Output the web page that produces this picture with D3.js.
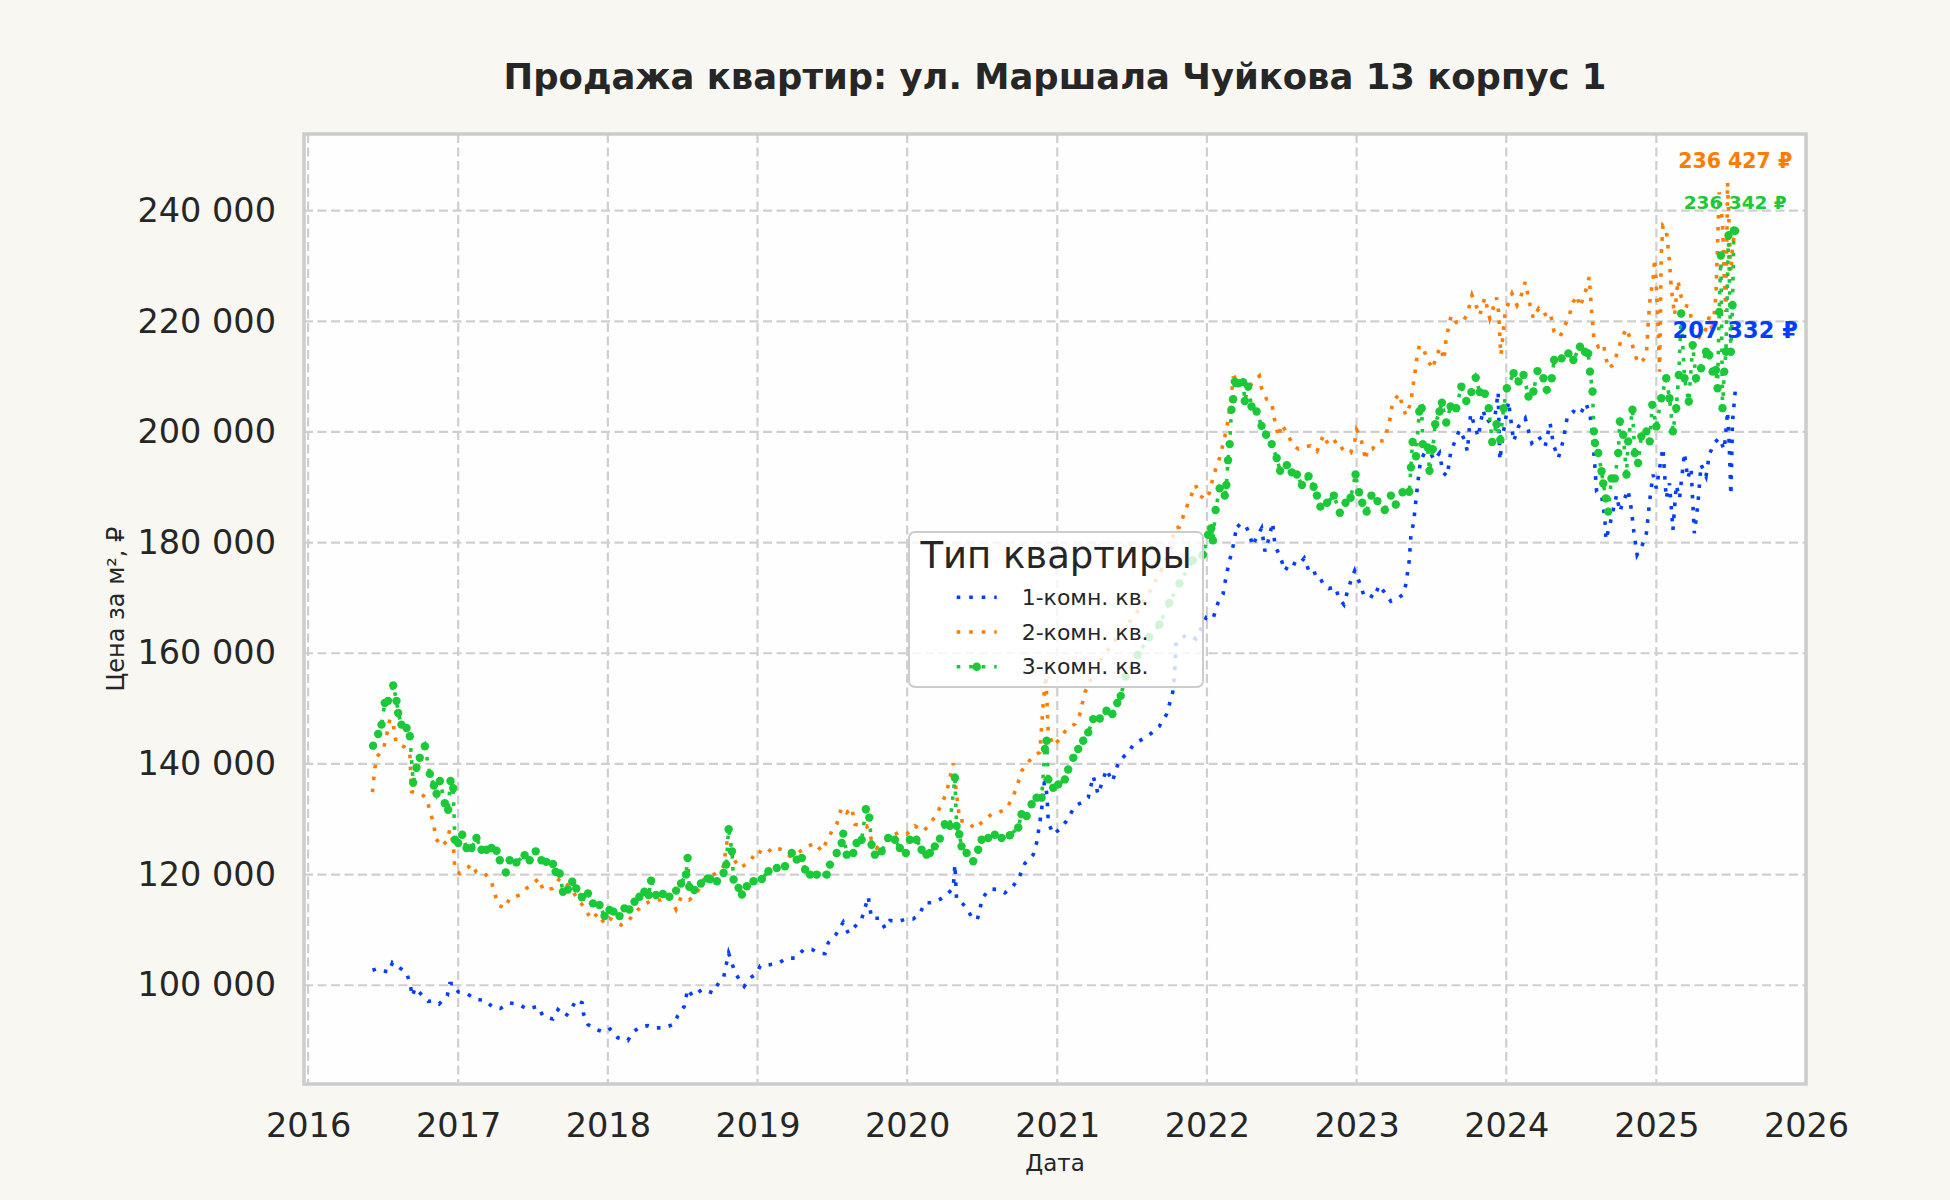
<!DOCTYPE html>
<html lang="ru">
<head>
<meta charset="utf-8">
<title>Продажа квартир: ул. Маршала Чуйкова 13 корпус 1</title>
<script src="https://cdn.jsdelivr.net/npm/d3@7"></script>
<style>
  body { margin: 0; background: #f8f7f2; }
  svg { display: block; font-family: "DejaVu Sans", sans-serif; }
</style>
</head>
<body>
<script>
// dates are decimal years, values are rubles per m2
const oneRoomT = [
  2016.429, 2016.460, 2016.496, 2016.540, 2016.562, 2016.607, 2016.656, 2016.678, 2016.696, 2016.711,
  2016.756, 2016.800, 2016.829, 2016.873, 2016.927, 2016.944, 2016.971, 2017.000, 2017.056, 2017.122,
  2017.178, 2017.233, 2017.282, 2017.344, 2017.400, 2017.460, 2017.533, 2017.567, 2017.633, 2017.667,
  2017.718, 2017.756, 2017.789, 2017.829, 2017.838, 2017.867, 2017.922, 2017.978, 2018.016, 2018.067,
  2018.133, 2018.167, 2018.211, 2018.267, 2018.311, 2018.378, 2018.444, 2018.467, 2018.511, 2018.533,
  2018.567, 2018.633,
  2018.702, 2018.740, 2018.773, 2018.791, 2018.807, 2018.829, 2018.851, 2018.884, 2018.911, 2018.951,
  2018.996, 2019.018, 2019.080, 2019.140, 2019.196, 2019.251, 2019.307, 2019.362, 2019.407, 2019.451,
  2019.473, 2019.522, 2019.573, 2019.607, 2019.651, 2019.696, 2019.718, 2019.740, 2019.762, 2019.818,
  2019.851, 2019.884, 2019.940, 2019.996, 2020.040, 2020.080, 2020.118, 2020.173, 2020.218, 2020.273,
  2020.307, 2020.318, 2020.329, 2020.351, 2020.384, 2020.429, 2020.467, 2020.502, 2020.551, 2020.607,
  2020.651, 2020.696, 2020.740, 2020.784, 2020.840, 2020.862, 2020.884, 2020.896, 2020.918, 2020.933,
  2020.940, 2020.973, 2021.018, 2021.062, 2021.118, 2021.162, 2021.207, 2021.240, 2021.273, 2021.329,
  2021.368, 2021.413, 2021.469, 2021.513, 2021.570, 2021.626, 2021.682, 2021.731, 2021.771, 2021.783,
  2021.794, 2021.861, 2021.928, 2021.996, 2022.040, 2022.074, 2022.108, 2022.130, 2022.152, 2022.175,
  2022.202, 2022.231, 2022.260, 2022.287, 2022.305, 2022.332, 2022.365, 2022.388, 2022.410, 2022.439,
  2022.455, 2022.489, 2022.522, 2022.556, 2022.612, 2022.650, 2022.691, 2022.735, 2022.776, 2022.814,
  2022.859, 2022.881, 2022.915, 2022.937, 2022.964, 2022.987, 2023.027, 2023.049, 2023.076, 2023.117,
  2023.150, 2023.184, 2023.229, 2023.274, 2023.314, 2023.330, 2023.352, 2023.363, 2023.381, 2023.397,
  2023.413, 2023.426, 2023.453, 2023.493, 2023.520, 2023.554, 2023.576, 2023.605, 2023.628, 2023.655,
  2023.688, 2023.722, 2023.740, 2023.762, 2023.789, 2023.812, 2023.845, 2023.868, 2023.924, 2023.946,
  2023.957,
  2023.982, 2024.015, 2024.049, 2024.082, 2024.126, 2024.170, 2024.215, 2024.259, 2024.292, 2024.314,
  2024.347, 2024.381, 2024.407, 2024.447, 2024.491, 2024.531, 2024.558, 2024.575, 2024.591, 2024.602,
  2024.635, 2024.657, 2024.664, 2024.690, 2024.735, 2024.757, 2024.779, 2024.812, 2024.834, 2024.850,
  2024.872, 2024.907, 2024.934, 2024.956, 2024.978, 2025.000, 2025.022, 2025.044, 2025.066, 2025.088,
  2025.111, 2025.133, 2025.155, 2025.188, 2025.210, 2025.232, 2025.254, 2025.277, 2025.299, 2025.332,
  2025.354, 2025.387, 2025.420, 2025.454, 2025.476, 2025.487, 2025.498, 2025.509, 2025.527
];
const oneRoomV = [
  102700, 103000, 102600, 102400, 104100, 103200, 102300, 100300, 98000, 99500,
  98300, 97100, 97200, 96600, 98100, 100300, 100300, 98800, 98500, 97400,
  97300, 96000, 95800, 96800, 96600, 95700, 96200, 94400, 93900, 95600,
  94400, 95700, 97400, 96800, 94800, 92900, 92000, 91500, 92100, 90500,
  90000, 91500, 92400, 92700, 92300, 92300, 93000, 94500, 96200, 99300,
  98000, 99300,
  98600, 100400, 101300, 103700, 105800, 104000, 102200, 100800, 99800, 101300,
  102200, 103500, 103700, 104000, 104900, 104900, 106400, 106500, 105800, 105700,
  107700, 109100, 111400, 109400, 110600, 112000, 114000, 116000, 112100, 112100,
  110300, 111700, 111500, 112000, 112000, 112700, 114900, 114900, 115500, 116600,
  117600, 121800, 115500, 115300, 114300, 112400, 111800, 115800, 117400, 117300,
  116700, 117600, 119100, 122000, 123600, 125700, 129400, 131800, 137800, 133600,
  129400, 127300, 128200, 129700, 132400, 133000, 133900, 137800, 134500, 139000,
  136800, 140600, 141900, 143600, 144500, 145500, 146800, 149000, 152900, 155800,
  162000, 163300, 162600, 166500, 166200, 169100, 170700, 174200, 176800, 179400,
  183300, 182600, 183000, 181400, 179400, 181000, 182600, 178400, 180400, 183600,
  179400, 177500, 174900, 176500, 175900, 177200, 174200, 174600, 172600, 171700,
  172000, 170000, 168800, 171000, 173300, 174900, 172300, 170400, 170700, 170000,
  172300, 171100, 169400, 169900, 170700, 172600, 176800, 181400, 183600, 187800,
  191700, 194600, 196200, 196200, 194900, 196200, 192700, 192000, 196200, 198200,
  200400, 198500, 196500, 203300, 201100, 199100, 204000, 201700, 202700, 207200,
  194900,
  200100, 205500, 198300, 201000, 202500, 198000, 199200, 197400, 201600, 197700,
  195300, 198600, 202800, 203700, 203100, 205200, 203100, 199500, 193500, 189200,
  188600, 184400, 180500, 183200, 188600, 185600, 187400, 189500, 185900, 182000,
  177800, 179600, 181700, 187700, 192300, 189800, 193500, 197100, 188000, 190700,
  182300, 190400, 188000, 196200, 191600, 193500, 181700, 186800, 194100, 192000,
  195900, 198000, 198900, 196800, 203700, 197700, 188600, 201900, 207332
];

const twoRoomT = [
  2016.429, 2016.444, 2016.460, 2016.504, 2016.529, 2016.544, 2016.567, 2016.573, 2016.589, 2016.640,
  2016.678, 2016.689, 2016.751, 2016.789, 2016.811, 2016.838, 2016.849, 2016.889, 2016.922, 2016.944,
  2016.967, 2016.978, 2017.011, 2017.067, 2017.089, 2017.122, 2017.178, 2017.222, 2017.244, 2017.267,
  2017.311, 2017.344, 2017.411, 2017.456, 2017.500, 2017.540, 2017.567, 2017.633, 2017.678, 2017.744,
  2017.789, 2017.851, 2017.889, 2017.933, 2017.978, 2018.011, 2018.089, 2018.127, 2018.178, 2018.233,
  2018.300, 2018.356, 2018.411, 2018.456, 2018.489, 2018.544,
  2018.596, 2018.640, 2018.684, 2018.729, 2018.773, 2018.796, 2018.818, 2018.851, 2018.884, 2018.951,
  2018.996, 2019.051, 2019.107, 2019.162, 2019.218, 2019.273, 2019.329, 2019.384, 2019.429, 2019.462,
  2019.496, 2019.529, 2019.562, 2019.596, 2019.629, 2019.651, 2019.696, 2019.729, 2019.762, 2019.796,
  2019.840, 2019.896, 2019.940, 2019.996, 2020.051, 2020.107, 2020.151, 2020.196, 2020.229, 2020.262,
  2020.307, 2020.329, 2020.351, 2020.396, 2020.451, 2020.507, 2020.562, 2020.607, 2020.662, 2020.702,
  2020.729, 2020.762, 2020.796, 2020.840, 2020.884, 2020.907, 2020.924, 2020.940, 2020.973, 2021.018,
  2021.062, 2021.118, 2021.151, 2021.184, 2021.218,
  2021.233, 2021.323, 2021.413, 2021.525, 2021.614, 2021.693, 2021.760, 2021.783, 2021.816, 2021.857,
  2021.895, 2021.924, 2021.951, 2021.996, 2022.018, 2022.040, 2022.067, 2022.085, 2022.119, 2022.141,
  2022.164, 2022.175, 2022.209, 2022.242, 2022.276, 2022.309, 2022.350, 2022.365, 2022.399, 2022.433,
  2022.448, 2022.478, 2022.500, 2022.534, 2022.578, 2022.612, 2022.646, 2022.691, 2022.735, 2022.780,
  2022.814, 2022.870, 2022.915, 2022.960, 2022.987, 2023.000, 2023.027, 2023.061, 2023.072, 2023.105,
  2023.139, 2023.184, 2023.217, 2023.240, 2023.285, 2023.307, 2023.330, 2023.363, 2023.374, 2023.386,
  2023.404, 2023.419, 2023.442, 2023.475, 2023.509, 2023.531, 2023.561, 2023.583, 2023.599, 2023.632,
  2023.666, 2023.711, 2023.744, 2023.771, 2023.800, 2023.823, 2023.857, 2023.890, 2023.935,
  2023.949, 2023.960, 2023.965, 2023.993, 2024.038, 2024.071, 2024.104, 2024.126, 2024.159, 2024.181,
  2024.215, 2024.248, 2024.292, 2024.319, 2024.358, 2024.392, 2024.420, 2024.447, 2024.469, 2024.491,
  2024.524, 2024.553, 2024.569, 2024.584, 2024.613, 2024.646, 2024.679, 2024.712, 2024.746, 2024.768,
  2024.801, 2024.834, 2024.856, 2024.878, 2024.912, 2024.934, 2024.945, 2024.956, 2024.978, 2024.989,
  2025.000, 2025.011, 2025.022, 2025.033, 2025.044, 2025.066, 2025.088, 2025.100, 2025.122, 2025.144,
  2025.166, 2025.188, 2025.221, 2025.243, 2025.265, 2025.299, 2025.332, 2025.354, 2025.376, 2025.398,
  2025.409, 2025.420, 2025.442, 2025.454, 2025.465, 2025.476, 2025.487, 2025.498, 2025.509, 2025.527
];
const twoRoomV = [
  134900, 139100, 141300, 142900, 145900, 148000, 147700, 145700, 143700, 143100,
  141700, 135000, 134600, 133800, 131600, 129000, 126600, 125100, 126000, 128100,
  125700, 120900, 120200, 121300, 121900, 120400, 120200, 118700, 116600, 114500,
  113900, 115700, 116300, 117500, 118400, 119300, 117200, 117500, 119300, 117800,
  116000, 113700, 111900, 113000, 111100, 112100, 110900, 111300, 113000, 114500,
  115400, 115400, 116000, 113700, 115900, 115400,
  116700, 119100, 119700, 120300, 121500, 126000, 123900, 122400, 121200, 122400,
  124400, 123600, 125000, 124500, 123300, 124000, 125000, 125700, 124200, 126000,
  127800, 129100, 132100, 131200, 132100, 129100, 128800, 128800, 126300, 124800,
  126000, 126900, 127600, 127300, 128800, 127800, 129100, 130900, 132700, 134800,
  140100, 134500, 129700, 129700, 128300, 129700, 130900, 131200, 131900, 133900,
  135700, 138700, 139900, 141500, 142100, 151100, 156000, 145700, 143300, 144500,
  146300, 147200, 149000, 152900, 154700,
  156800, 160000, 163300, 167100, 171000, 174900, 179100, 182600, 182800, 185900,
  188500, 190400, 188500, 187800, 189100, 191700, 194000, 195300, 199100, 202000,
  206600, 209800, 210100, 209100, 207900, 209100, 210100, 207900, 205900, 205300,
  202700, 199100, 201400, 199800, 197500, 196900, 197200, 197500, 196500, 199500,
  197500, 198500, 196500, 196200, 198200, 200400, 199100, 194900, 196900, 196900,
  198200, 198500, 201400, 205300, 206900, 204600, 203000, 205300, 207900, 209800,
  213700, 215600, 215300, 213000, 211400, 213700, 215300, 213000, 216900, 221100,
  219800, 219800, 221700, 224700, 222700, 221100, 224300, 220500, 224300,
  221700, 215700, 213900, 221700, 225000, 222900, 225000, 227100, 222900, 220500,
  222300, 221100, 221700, 218100, 217200, 219300, 221100, 223500, 224700, 222600,
  225000, 228000, 221700, 216900, 215400, 216000, 211500, 212100, 214800, 216900,
  218700, 216300, 214200, 212400, 213000, 213900, 219300, 223500, 227700, 231300,
  226500, 219900, 210900, 232200, 237300, 236700, 230700, 225900, 221100, 227400,
  224400, 222900, 222600, 218700, 217500, 216900, 218700, 220800, 218100, 224700,
  233700, 243300, 237900, 227700, 221700, 245100, 236700, 228900, 233700, 236427
];

const threeRoomT = [
  2016.433, 2016.467, 2016.489, 2016.511, 2016.533, 2016.567, 2016.589, 2016.600, 2016.622, 2016.656,
  2016.678, 2016.700, 2016.722, 2016.744, 2016.778, 2016.811, 2016.838, 2016.856, 2016.878, 2016.911,
  2016.933, 2016.949, 2016.967, 2016.978, 2017.000, 2017.027, 2017.056, 2017.089, 2017.122, 2017.156,
  2017.189, 2017.222, 2017.256, 2017.278, 2017.318, 2017.344, 2017.389, 2017.444, 2017.478, 2017.518,
  2017.556, 2017.589, 2017.633, 2017.651, 2017.678, 2017.700, 2017.733, 2017.762, 2017.789, 2017.827,
  2017.867, 2017.900, 2017.944, 2017.978, 2018.011, 2018.038, 2018.078, 2018.111, 2018.144, 2018.178,
  2018.211, 2018.244, 2018.273, 2018.289, 2018.322, 2018.367, 2018.411, 2018.456, 2018.489, 2018.522,
  2018.533, 2018.544, 2018.578, 2018.622, 2018.667,
  2018.684, 2018.729, 2018.773, 2018.791, 2018.807, 2018.829, 2018.840, 2018.873, 2018.896, 2018.929,
  2018.973, 2019.029, 2019.073, 2019.129, 2019.184, 2019.229, 2019.262, 2019.296, 2019.318, 2019.351,
  2019.396, 2019.462, 2019.484, 2019.529, 2019.562, 2019.573, 2019.596, 2019.640, 2019.662, 2019.696,
  2019.724, 2019.747, 2019.762, 2019.784, 2019.829, 2019.873, 2019.918, 2019.951, 2019.991, 2020.018,
  2020.062, 2020.096, 2020.129, 2020.151, 2020.184, 2020.218, 2020.251, 2020.284, 2020.318, 2020.329,
  2020.347, 2020.362, 2020.396, 2020.440, 2020.473, 2020.496, 2020.540, 2020.584, 2020.629, 2020.684,
  2020.740, 2020.762, 2020.796, 2020.829, 2020.862, 2020.896, 2020.918, 2020.929, 2020.940, 2020.973,
  2021.007, 2021.051, 2021.073, 2021.107, 2021.140, 2021.173, 2021.207, 2021.240, 2021.284, 2021.329,
  2021.368, 2021.401, 2021.424, 2021.457, 2021.536, 2021.614, 2021.682, 2021.749, 2021.816, 2021.906,
  2021.973, 2022.007, 2022.029, 2022.040, 2022.058, 2022.085, 2022.119, 2022.130, 2022.141, 2022.152,
  2022.164, 2022.175, 2022.186, 2022.209, 2022.242, 2022.253, 2022.276, 2022.298, 2022.332, 2022.365,
  2022.395, 2022.433, 2022.466, 2022.489, 2022.534, 2022.567, 2022.601, 2022.635, 2022.679, 2022.713,
  2022.735, 2022.758, 2022.803, 2022.848, 2022.888, 2022.926, 2022.960, 2022.993, 2023.016, 2023.038,
  2023.067, 2023.099, 2023.139, 2023.188, 2023.229, 2023.262, 2023.307, 2023.352, 2023.363, 2023.374,
  2023.397, 2023.419, 2023.435, 2023.442, 2023.475, 2023.487, 2023.509, 2023.525, 2023.554, 2023.570,
  2023.599, 2023.628, 2023.666, 2023.700, 2023.733, 2023.767, 2023.796, 2023.823, 2023.857, 2023.883,
  2023.906, 2023.935,
  2023.960, 2023.982, 2024.004, 2024.049, 2024.082, 2024.115, 2024.148, 2024.181, 2024.208, 2024.248,
  2024.270, 2024.303, 2024.319, 2024.369, 2024.414, 2024.447, 2024.491, 2024.524, 2024.546, 2024.558,
  2024.575, 2024.584, 2024.591, 2024.613, 2024.635, 2024.646, 2024.664, 2024.679, 2024.701, 2024.723,
  2024.746, 2024.757, 2024.779, 2024.801, 2024.812, 2024.841, 2024.856, 2024.878, 2024.900, 2024.934,
  2024.956, 2024.973, 2025.000, 2025.033, 2025.066, 2025.088, 2025.111, 2025.133, 2025.150, 2025.166,
  2025.188, 2025.217, 2025.243, 2025.265, 2025.299, 2025.332, 2025.354, 2025.376, 2025.398, 2025.409,
  2025.420, 2025.431, 2025.442, 2025.454, 2025.465, 2025.482, 2025.498, 2025.509, 2025.518, 2025.527
];
const threeRoomV = [
  143300, 145400, 147100, 151000, 151400, 154200, 151400, 149200, 147100, 146500,
  145000, 136600, 139300, 141100, 143200, 138200, 136100, 134600, 136900, 132900,
  131700, 136900, 135600, 126300, 125700, 127200, 124800, 124800, 126600, 124500,
  124500, 124800, 124300, 122600, 120400, 122600, 122200, 123500, 122600, 124200,
  122600, 122300, 121900, 120500, 120200, 116900, 117300, 118700, 117500, 115900,
  116600, 114800, 114500, 112500, 113600, 113300, 112500, 113900, 113700, 115100,
  116000, 116900, 116300, 118900, 116300, 116500, 116000, 117100, 118400, 120000,
  123000, 117800, 117200, 118400, 119300,
  119200, 118800, 120300, 121800, 128200, 124200, 119100, 117600, 116400, 117900,
  118800, 119200, 120600, 121200, 121500, 123900, 122700, 123000, 120900, 120000,
  120000, 120000, 121800, 123900, 125700, 127400, 123600, 123900, 125700, 126300,
  131800, 130300, 125400, 123600, 124200, 126600, 126300, 124800, 123900, 126300,
  126300, 124500, 123600, 123900, 125100, 126500, 129100, 128800, 137500, 128800,
  127300, 125100, 123900, 122400, 124500, 126300, 126600, 127200, 126600, 127100,
  128500, 130900, 130600, 132700, 133900, 133900, 142700, 144200, 137200, 135700,
  136300, 137200, 139000, 141100, 142700, 144200, 145700, 148100, 148200, 149600,
  149000, 151000, 152300, 155800, 159700, 162900, 165200, 169100, 172600, 176800,
  177800, 181400, 182600, 180400, 185900, 189800, 188500, 190400, 194900, 197800,
  204000, 205900, 209100, 208800, 209000, 205600, 208200, 204600, 203700, 201100,
  199500, 197800, 195300, 193000, 194000, 192700, 192300, 190400, 192000, 190100,
  188500, 186500, 187200, 188500, 185400, 187200, 188100, 192300, 189100, 187200,
  185600, 188500, 187500, 185900, 188500, 186900, 189100, 189200, 193600, 198200,
  195600, 203700, 204300, 197800, 197200, 193000, 196900, 201400, 203700, 205300,
  201700, 204600, 204300, 208200, 205600, 207200, 209800, 207200, 206900, 204300,
  198200, 201400,
  198600, 204300, 207900, 210600, 209100, 210300, 206400, 207300, 211000, 209700,
  207600, 209700, 213000, 213300, 214200, 213000, 215400, 214500, 214200, 210900,
  207300, 200100, 198000, 196200, 192900, 190700, 188000, 185600, 191600, 191600,
  196200, 201900, 199500, 192300, 198300, 204000, 196200, 194400, 199200, 200100,
  198300, 204900, 201000, 206100, 209700, 206100, 200100, 204300, 210300, 221400,
  209700, 205500, 215700, 209700, 211500, 214500, 213900, 210900, 211200, 207900,
  221700, 231900, 204300, 210900, 214500, 235500, 214500, 222900, 236400, 236342
];

const seriesNames = ["1-комн. кв.", "2-комн. кв.", "3-комн. кв."];
const seriesColors = ["#023eff", "#ff7c00", "#1ac938"];
const yTickValues = [100000, 120000, 140000, 160000, 180000, 200000, 220000, 240000];
const xTickYears = [2016, 2017, 2018, 2019, 2020, 2021, 2022, 2023, 2024, 2025, 2026];

const width = 1950;
const height = 1200;
const plot = { left: 304, right: 1806, top: 134, bottom: 1084 };

function yearToDate(t) {
  const y0 = Math.floor(t);
  const a = new Date(y0, 0, 1);
  const b = new Date(y0 + 1, 0, 1);
  return new Date(+a + (t - y0) * (b - a));
}

const series = [
  { t: oneRoomT, v: oneRoomV, labelSize: 22.5, labelDy: -60 },
  { t: twoRoomT, v: twoRoomV, labelSize: 20.5, labelDy: -68 },
  { t: threeRoomT, v: threeRoomV, labelSize: 18.5, labelDy: -27, marker: true }
].map((s, i) => ({
  ...s,
  name: seriesNames[i],
  color: seriesColors[i],
  points: s.t.map((t, j) => ({ date: yearToDate(t), value: s.v[j] }))
}));

const ru = d3.formatLocale({ decimal: ",", thousands: " ", grouping: [3], currency: ["", " ₽"] });
const fmtNum = ru.format(",.0f");
const fmtRub = ru.format("$,.0f");

const x = d3.scaleTime()
  .domain([new Date(2015, 11, 22), new Date(2026, 0, 1)])
  .range([plot.left, plot.right]);
const y = d3.scaleLinear()
  .domain([82150, 253850])
  .range([plot.bottom, plot.top]);

const svg = d3.create("svg")
  .attr("width", width)
  .attr("height", height)
  .attr("viewBox", [0, 0, width, height]);

svg.append("rect").attr("width", width).attr("height", height).attr("fill", "#f8f7f2");
svg.append("rect")
  .attr("x", plot.left).attr("y", plot.top)
  .attr("width", plot.right - plot.left).attr("height", plot.bottom - plot.top)
  .attr("fill", "#fefefe");

// grid
const grid = svg.append("g")
  .attr("stroke", "#cfcfcf")
  .attr("stroke-width", 2.2)
  .attr("stroke-dasharray", "9,4.5");
grid.selectAll(".gx").data(xTickYears).join("line")
  .attr("x1", d => x(new Date(d, 0, 1))).attr("x2", d => x(new Date(d, 0, 1)))
  .attr("y1", plot.top).attr("y2", plot.bottom);
grid.selectAll(".gy").data(yTickValues).join("line")
  .attr("x1", plot.left).attr("x2", plot.right)
  .attr("y1", d => y(d)).attr("y2", d => y(d));

// axes
const xAxis = svg.append("g")
  .attr("transform", `translate(0,${plot.bottom})`)
  .call(d3.axisBottom(x)
    .tickValues(xTickYears.map(d => new Date(d, 0, 1)))
    .tickFormat(d3.timeFormat("%Y"))
    .tickSize(0)
    .tickPadding(29.5));
const yAxis = svg.append("g")
  .attr("transform", `translate(${plot.left},0)`)
  .call(d3.axisLeft(y).tickValues(yTickValues).tickFormat(fmtNum).tickSize(0).tickPadding(28));
[xAxis, yAxis].forEach(g => {
  g.select(".domain").remove();
  g.attr("font-family", "DejaVu Sans").attr("font-size", 33.5);
  g.selectAll("text").attr("fill", "#262626");
});

// lines
const line = d3.line().x(d => x(d.date)).y(d => y(d.value));
const lines = svg.append("g");
series.forEach(s => {
  lines.append("path")
    .datum(s.points)
    .attr("d", line)
    .attr("fill", "none")
    .attr("stroke", s.color)
    .attr("stroke-width", 3.6)
    .attr("stroke-dasharray", "3.6,8.4");
  if (s.marker) {
    lines.append("g").selectAll("circle").data(s.points).join("circle")
      .attr("cx", d => x(d.date))
      .attr("cy", d => y(d.value))
      .attr("r", 4.2)
      .attr("fill", s.color);
  }
});

// border
svg.append("rect")
  .attr("x", plot.left).attr("y", plot.top)
  .attr("width", plot.right - plot.left).attr("height", plot.bottom - plot.top)
  .attr("fill", "none")
  .attr("stroke", "#cccccc")
  .attr("stroke-width", 3.5);

// last value labels
series.forEach(s => {
  const last = s.points[s.points.length - 1];
  svg.append("text")
    .attr("x", x(last.date))
    .attr("y", y(last.value) + s.labelDy)
    .attr("text-anchor", "middle")
    .attr("dominant-baseline", "middle")
    .attr("font-weight", "bold")
    .attr("font-size", s.labelSize)
    .attr("fill", s.color)
    .text(fmtRub(last.value));
});

// titles
svg.append("text")
  .attr("x", (plot.left + plot.right) / 2)
  .attr("y", 89)
  .attr("text-anchor", "middle")
  .attr("font-weight", "bold")
  .attr("font-size", 35.4)
  .attr("fill", "#262626")
  .text("Продажа квартир: ул. Маршала Чуйкова 13 корпус 1");
svg.append("text")
  .attr("x", (plot.left + plot.right) / 2)
  .attr("y", 1171)
  .attr("text-anchor", "middle")
  .attr("font-size", 23)
  .attr("fill", "#262626")
  .text("Дата");
svg.append("text")
  .attr("transform", `translate(124,${(plot.top + plot.bottom) / 2}) rotate(-90)`)
  .attr("text-anchor", "middle")
  .attr("font-size", 24)
  .attr("fill", "#262626")
  .text("Цена за м², ₽");

// legend
const legend = svg.append("g").attr("transform", "translate(909,532)");
legend.append("rect")
  .attr("width", 294).attr("height", 155).attr("rx", 6)
  .attr("fill", "#ffffff").attr("fill-opacity", 0.8)
  .attr("stroke", "#cccccc").attr("stroke-width", 2);
legend.append("text")
  .attr("x", 147).attr("y", 36)
  .attr("text-anchor", "middle")
  .attr("font-size", 37)
  .attr("fill", "#262626")
  .text("Тип квартиры");
const item = legend.selectAll(".item").data(series).join("g")
  .attr("transform", (d, i) => `translate(0,${65.3 + i * 34.7})`);
item.append("line")
  .attr("x1", 47.7).attr("x2", 87.7)
  .attr("stroke", d => d.color)
  .attr("stroke-width", 3.6)
  .attr("stroke-dasharray", "3.6,8.9");
item.filter(d => d.marker).append("circle")
  .attr("cx", 67.7).attr("r", 4.3)
  .attr("fill", d => d.color);
item.append("text")
  .attr("x", 112.7).attr("y", 7.7)
  .attr("font-size", 22)
  .attr("fill", "#262626")
  .text(d => d.name);

d3.select("body").append(() => svg.node());
</script>
</body>
</html>
